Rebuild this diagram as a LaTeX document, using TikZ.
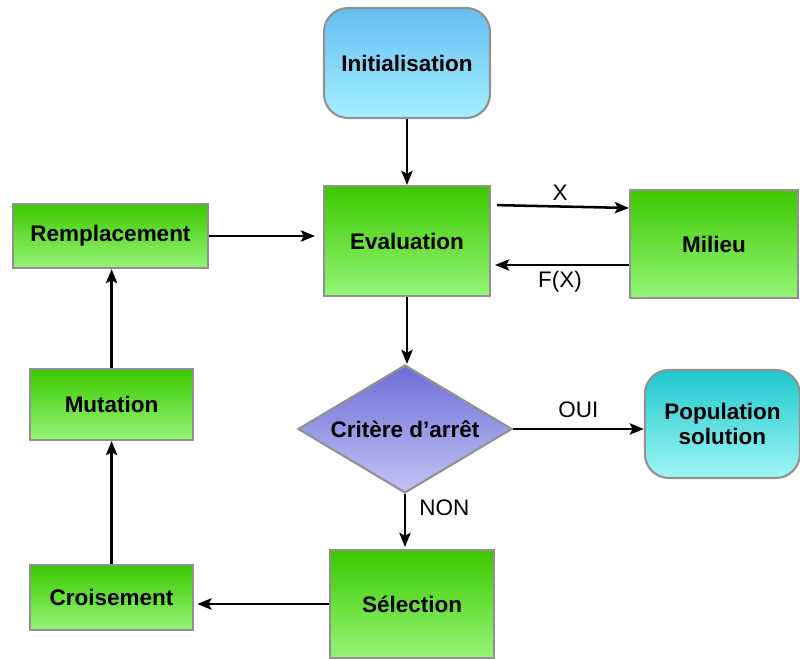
\documentclass[tikz,border=0pt]{standalone}
\usepackage{fontspec}
\setmainfont{Liberation Sans}
\usetikzlibrary{shapes.geometric, arrows.meta}
\definecolor{greentop}{RGB}{60,200,0}
\definecolor{greenbot}{RGB}{150,245,120}
\definecolor{bluetop}{RGB}{100,190,240}
\definecolor{bluebot}{RGB}{165,240,255}
\definecolor{cyantop}{RGB}{30,200,205}
\definecolor{cyanbot}{RGB}{160,245,245}
\definecolor{violettop}{RGB}{110,110,215}
\definecolor{violetbot}{RGB}{195,195,245}
\definecolor{edgegray}{RGB}{145,145,145}

\begin{document}
\begin{tikzpicture}[>={Stealth[length=10pt, width=8pt, inset=2pt]}, scale=1.0,
    stepbox/.style={draw=edgegray, line width=1.5pt, top color=greentop, bottom color=greenbot,
      font=\fontsize{16}{18}\selectfont\bfseries, inner sep=0pt},
    endbox/.style={draw=edgegray, line width=1.5pt, rounded corners=0.6cm,
      font=\fontsize{16}{18}\selectfont\bfseries, align=center, inner sep=0pt},
    lbl/.style={font=\fontsize{16}{18}\selectfont},
    flow/.style={->, line width=1.8pt}]
  \useasboundingbox (0,0) rectangle (20,16.45);
  % Main column
  \node[endbox, top color=bluetop, bottom color=bluebot,
    minimum width=4.15cm, minimum height=2.75cm] (init) at (10.175,14.875) {Initialisation};
  \node[stepbox, minimum width=4.15cm, minimum height=2.75cm] (eval) at (10.175,10.425) {Evaluation};
  \node[stepbox, minimum width=4.2cm, minimum height=2.7cm] (milieu) at (17.85,10.35) {Milieu};
  \node[diamond, draw=edgegray, line width=1.5pt, top color=violettop, bottom color=violetbot,
    aspect=1.67, minimum width=5.35cm, minimum height=3.2cm, inner sep=0pt,
    font=\fontsize{16}{18}\selectfont\bfseries] (crit) at (10.125,5.725) {Critère d'arrêt};
  \node[endbox, top color=cyantop, bottom color=cyanbot,
    minimum width=3.875cm, minimum height=2.7cm] (pop) at (18.06,5.85) {Population\\solution};
  \node[stepbox, minimum width=4.1cm, minimum height=2.7cm] (sel) at (10.3,1.35) {Sélection};
  % Left column
  \node[stepbox, minimum width=4.875cm, minimum height=1.6cm] (rempl) at (2.7625,10.55) {Remplacement};
  \node[stepbox, minimum width=4.075cm, minimum height=1.775cm] (mut) at (2.79,6.3375) {Mutation};
  \node[stepbox, minimum width=4.075cm, minimum height=1.625cm] (crois) at (2.79,1.5125) {Croisement};

  % Connectors
  \draw[flow] (init.south) -- (eval.north);
  \draw[flow, shorten <=0.15cm] ([yshift=0.9cm]eval.east) -- node[lbl, above] {X} ([yshift=0.9cm]milieu.west);
  \draw[flow, shorten >=0.1cm] ([yshift=-0.525cm]milieu.west) -- node[lbl, below] {F(X)}
    ([yshift=-0.525cm]milieu.west -| eval.east);
  \draw[flow, shorten >=0.2cm] (rempl.east) -- (rempl.east -| eval.west);
  \draw[flow] (eval.south) -- (eval.south |- crit.north);
  \draw[flow] (crit.east) -- node[lbl, above=4pt] {OUI} (crit.east -| pop.west);
  \draw[flow, shorten >=0.05cm] (crit.south) -- node[lbl, right=6pt, pos=0.25] {NON} (crit.south |- sel.north);
  \draw[flow, shorten >=0.08cm] (sel.west) -- (sel.west -| crois.east);
  \draw[flow] (crois.north) -- (mut.south);
  \draw[flow] (mut.north) -- (mut.north |- rempl.south);
\end{tikzpicture}
\end{document}
